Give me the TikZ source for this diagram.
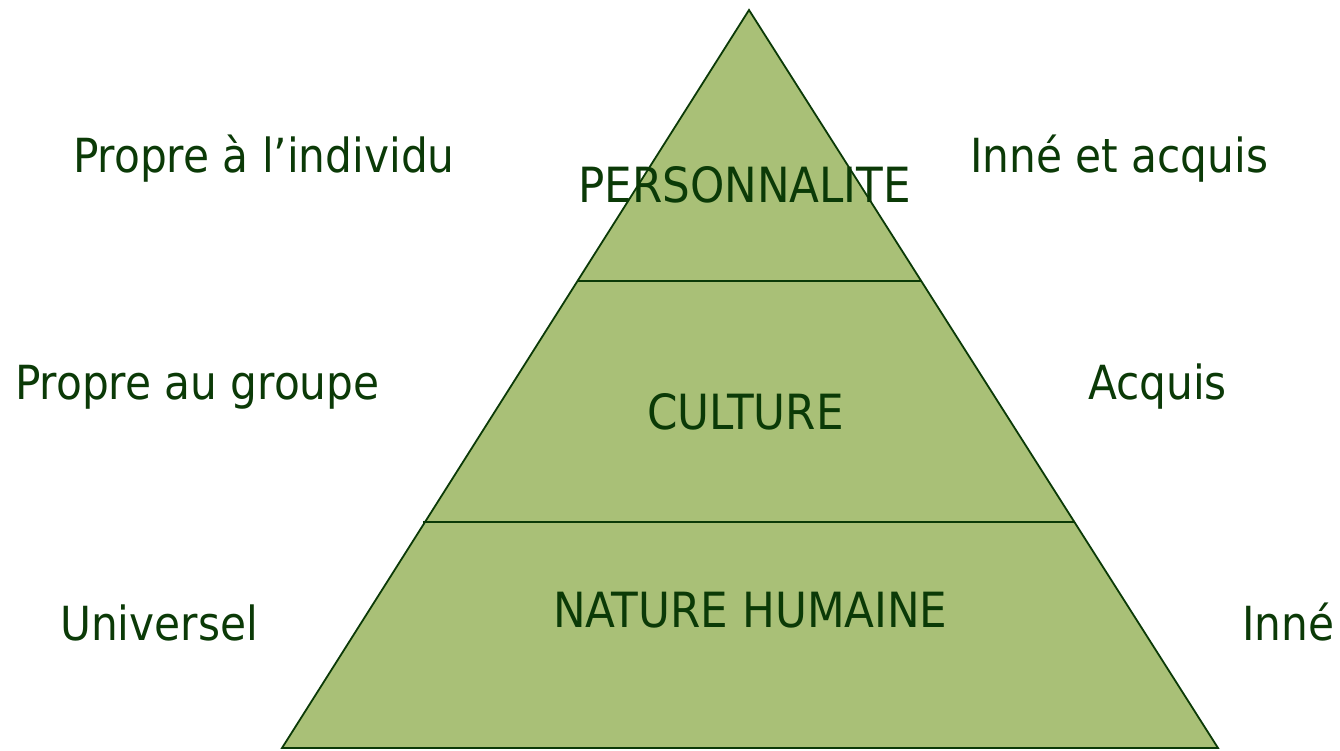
\documentclass[tikz,border=0pt]{standalone}
\usepackage{fontspec}
\setmainfont{DejaVu Sans Condensed}
\definecolor{leaf}{HTML}{A9C077}
\definecolor{forest}{HTML}{0B3A07}
\begin{document}
\begin{tikzpicture}[x=1pt,y=1pt,
  lbl/.style={anchor=base west,inner sep=0pt,text=forest,font=\fontsize{47}{52}\selectfont},
  caps/.style={lbl,font=\fontsize{48.5}{52}\selectfont},
  layer/.style={draw=forest,line width=1.8pt}]
\useasboundingbox (0,0) rectangle (1340,750);
% pyramid outline
\coordinate (apex) at (749,740);
\coordinate (bl) at (282,2);
\coordinate (br) at (1218,2);
\filldraw[fill=leaf,layer,line join=miter] (bl) -- (apex) -- (br) -- cycle;
% layer boundaries
\coordinate (l1) at (577,469);
\coordinate (r1) at (921,469);
\coordinate (l2) at (423,228);
\coordinate (r2) at (1074,228);
\draw[layer,line width=1.4pt] (l1) -- (r1);
\draw[layer,line width=1.4pt] (l2) -- (r2);
% layer titles
\node[caps] (pers) at (578,547) {PERSONNALITE};
\node[caps] (cult) at (647,320) {CULTURE};
\node[caps] (nat) at (553,123) {NATURE HUMAINE};
% left-hand labels
\node[lbl] (indiv) at (73,577) {Propre à l’individu};
\node[lbl] (grp) at (15,350) {Propre au groupe};
\node[lbl] (univ) at (60,110) {Universel};
% right-hand labels
\node[lbl] (ia) at (970,577) {Inné et acquis};
\node[lbl] (acq) at (1088,350) {Acquis};
\node[lbl] (inne) at (1242,110) {Inné};
\end{tikzpicture}
\end{document}
